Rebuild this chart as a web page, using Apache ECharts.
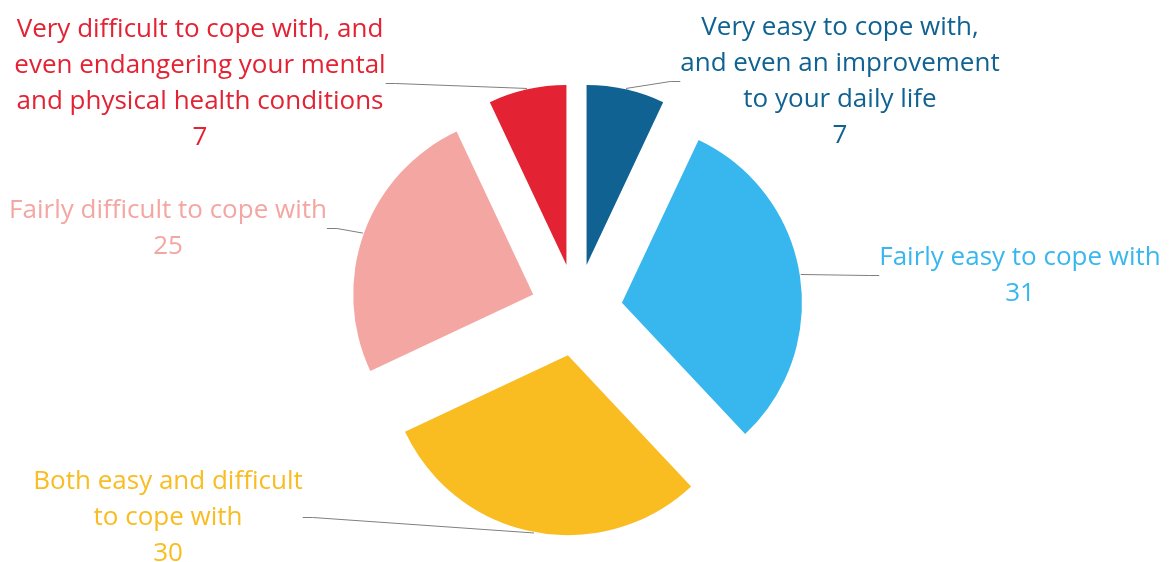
<!DOCTYPE html>
<html>
<head>
<meta charset="utf-8">
<script src="https://cdn.jsdelivr.net/npm/echarts@6/dist/echarts.min.js"></script>
<style>
html,body{margin:0;padding:0;background:#fff;}
#chart{width:1171px;height:562px;}
</style>
</head>
<body>
<div id="chart"></div>
<script>
const categories = [
  'Very easy to cope with,\nand even an improvement\nto your daily life',
  'Fairly easy to cope with',
  'Both easy and difficult\nto cope with',
  'Fairly difficult to cope with',
  'Very difficult to cope with, and\neven endangering your mental\nand physical health conditions'
];
const values = [7, 31, 30, 25, 7];
const colors = ['#0F6292', '#38B7EF', '#F9BC21', '#F4A6A2', '#E32233'];

// label block centres (layout, not data)
const labelCentres = [[840, 81.5], [1020, 275.5], [168, 517.5], [168, 228.5], [200, 83.5]];

const CENTER = [576.5, 310];
const R = 180;
const OFFSET = 46;

const chart = echarts.init(document.getElementById('chart'), null, {renderer: 'canvas'});
chart.setOption({
  animation: false,
  series: [
    {
      // exploded slices
      type: 'pie',
      center: CENTER,
      radius: [0, R],
      startAngle: 90,
      clockwise: true,
      selectedMode: 'multiple',
      selectedOffset: OFFSET,
      emphasis: {disabled: true},
      itemStyle: {borderWidth: 0},
      label: {show: false},
      labelLine: {show: false},
      data: values.map((v, i) => ({
        name: categories[i],
        value: v,
        selected: true,
        itemStyle: {color: colors[i]},
        select: {itemStyle: {color: colors[i], borderWidth: 0}}
      }))
    },
    {
      // invisible pie carrying the labels and leader lines
      type: 'pie',
      center: CENTER,
      radius: [0, R + OFFSET + 1],
      startAngle: 90,
      clockwise: true,
      silent: true,
      selectedMode: false,
      emphasis: {disabled: true},
      itemStyle: {color: 'rgba(0,0,0,0)', borderWidth: 0},
      label: {
        show: true,
        formatter: '{b}\n{c}',
        fontFamily: 'Open Sans',
        fontSize: 26,
        lineHeight: 36,
        align: 'center'
      },
      labelLine: {
        show: true,
        length: 10,
        length2: 10,
        lineStyle: {color: '#7F7F7F', width: 1}
      },
      labelLayout: function (p) {
        const c = labelCentres[p.dataIndex];
        return {x: c[0], y: c[1], align: 'center', verticalAlign: 'middle'};
      },
      data: values.map((v, i) => ({
        name: categories[i],
        value: v,
        label: {color: colors[i]}
      }))
    }
  ]
});
</script>
</body>
</html>
